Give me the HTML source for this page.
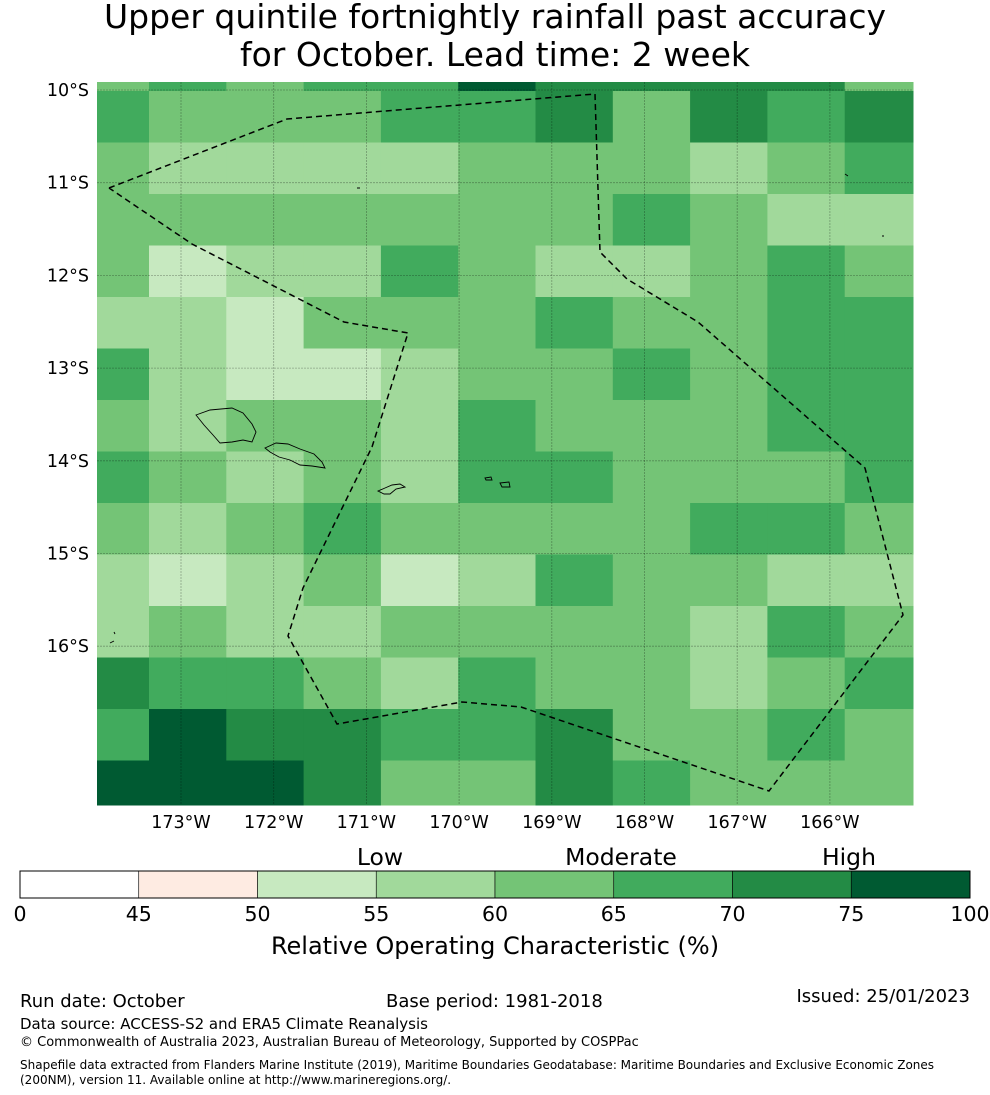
<!DOCTYPE html>
<html><head><meta charset="utf-8"><style>
body{margin:0;background:#fff;width:990px;height:1095px;overflow:hidden;font-family:"Liberation Sans","DejaVu Sans",sans-serif}
svg{display:block}
</style></head><body>
<svg id="chart" width="990" height="1095" viewBox="0 0 990 1095" font-family="DejaVu Sans, Liberation Sans, sans-serif">
<text x="495" y="28" font-size="33" text-anchor="middle">Upper quintile fortnightly rainfall past accuracy</text>
<text x="495" y="66" font-size="33" text-anchor="middle">for October. Lead time: 2 week</text>
<g id="cells"></g>
<g id="grid"></g>
<g id="islands" fill="none" stroke="#000" stroke-width="0.9">
<path d="M196,415 L210,410 L232,408 L243,413 L252,424 L256,432 L252,442 L243,440 L232,442 L220,443 L213,435 L204,425 Z"/>
<path d="M265,448 L276,443 L288,444 L300,449 L314,454 L322,462 L325,468 L312,466 L300,465 L290,460 L279,457 L270,452 Z"/>
<path d="M378,491 L385,488 L392,485 L400,484 L405,487 L396,489 L390,494 L384,494 Z"/>
<path d="M485,478 L491,477 L492,480 L486,480 Z M500,483 L509,482 L510,487 L502,487 Z"/>
<path d="M357,188 L360,188 M845,174 L848,176 M882,236 L884,236 M110,643 L114,641 M114,632 L115,634"/>
</g>
<polyline id="eez" fill="none" stroke="#000" stroke-width="1.5" stroke-dasharray="6,4" points="109,188 287,119 595,94 600,252 627,279 698,322 865,468 903,615 769,791 521,707 462,702 337,724 288,636 303,588 372,447 408,333 344,322 192,244 109,188"/>
<g id="xticks" font-size="17.5" text-anchor="middle"></g>
<g id="yticks" font-size="17.5" text-anchor="end"></g>
<g id="cbar"></g>
<text x="380" y="865" font-size="23.5" text-anchor="middle">Low</text>
<text x="621" y="865" font-size="23.5" text-anchor="middle">Moderate</text>
<text x="849" y="865" font-size="23.5" text-anchor="middle">High</text>
<text x="495" y="954" font-size="24" text-anchor="middle">Relative Operating Characteristic (%)</text>
<text x="20" y="1007" font-size="18">Run date: October</text>
<text x="386" y="1007" font-size="18">Base period: 1981-2018</text>
<text x="970" y="1002" font-size="18" text-anchor="end">Issued: 25/01/2023</text>
<text x="20" y="1029" font-size="15">Data source: ACCESS-S2 and ERA5 Climate Reanalysis</text>
<text x="20" y="1046" font-size="13">© Commonwealth of Australia 2023, Australian Bureau of Meteorology, Supported by COSPPac</text>
<text x="20" y="1069" font-size="12">Shapefile data extracted from Flanders Marine Institute (2019), Maritime Boundaries Geodatabase: Maritime Boundaries and Exclusive Economic Zones</text>
<text x="20" y="1084" font-size="12">(200NM), version 11. Available online at http://www.marineregions.org/.</text>
</svg>
<script>
// ROC category index per cell: 2=50-55,3=55-60,4=60-65,5=65-70,6=70-75,7=75-100
const row0=[4,5,4,5,5,7,6,6,6,6,4];
const row1=[5,4,4,4,5,5,6,4,6,5,6];
const row2=[4,3,3,3,3,4,4,4,3,4,5];
const row3=[4,4,4,4,4,4,4,5,4,3,3];
const row4=[4,2,3,3,5,4,3,3,4,5,4];
const row5=[3,3,2,4,4,4,5,4,4,5,5];
const row6=[5,3,2,2,3,4,4,5,4,5,5];
const row7=[4,3,4,4,3,5,4,4,4,5,5];
const row8=[5,4,3,4,3,5,5,4,4,4,5];
const row9=[4,3,4,5,4,4,4,4,5,5,4];
const row10=[3,2,3,4,2,3,5,4,4,3,3];
const row11=[3,4,3,3,4,4,4,4,3,5,4];
const row12=[6,5,5,4,3,5,4,4,3,4,5];
const row13=[5,7,6,6,5,5,6,4,4,5,4];
const row14=[7,7,7,6,4,4,6,5,4,4,4];
const lonTicks=[173,172,171,170,169,168,167,166];
const latTicks=[10,11,12,13,14,15,16];
const cbarBounds=[0,45,50,55,60,65,70,75,100];
const cbarColors=["#ffffff","#feebe2","#c7e9c0","#a1d99b","#74c476","#41ab5d","#238b45","#005a32"];

const rows=[row0,row1,row2,row3,row4,row5,row6,row7,row8,row9,row10,row11,row12,row13,row14];
const NS="http://www.w3.org/2000/svg";
const L=97,R=913,T=82,B=805;
const pxPerDeg=92.7;
const xLon=lon=>181+(173-lon)*pxPerDeg;
const yLat=lat=>90+(lat-10)*pxPerDeg;
const cellW=77.3, colStart=149-cellW, rowStart=91-51.5, cellH=51.5;
function mk(tag,attrs,parent){const e=document.createElementNS(NS,tag);for(const k in attrs)e.setAttribute(k,attrs[k]);parent.appendChild(e);return e;}
const cg=document.getElementById('cells');
rows.forEach((r,i)=>{r.forEach((v,j)=>{
  let x0=Math.max(L,colStart+j*cellW),x1=Math.min(R,colStart+(j+1)*cellW);
  let y0=Math.max(T,rowStart+i*cellH),y1=Math.min(B,rowStart+(i+1)*cellH);
  const e=mk('rect',{x:x0,y:y0,width:x1-x0+0.5,height:y1-y0+0.5,fill:cbarColors[v]},cg);
  
  
});});
const gg=document.getElementById('grid'),xt=document.getElementById('xticks'),yt=document.getElementById('yticks');
lonTicks.forEach(lon=>{const x=xLon(lon);
  const l=mk('line',{x1:x,x2:x,y1:T,y2:B,stroke:'rgba(0,0,0,0.3)','stroke-width':0.8,'stroke-dasharray':'2,1'},gg);
  
  
  const t=mk('text',{x:x,y:828},xt);t.textContent=lon+'°W';
  
  
});
latTicks.forEach(lat=>{const y=yLat(lat);
  const l=mk('line',{x1:L,x2:R,y1:y,y2:y,stroke:'rgba(0,0,0,0.3)','stroke-width':0.8,'stroke-dasharray':'2,1'},gg);
  
  
  const t=mk('text',{x:89,y:y+6},yt);t.textContent=lat+'°S';
  
  
});
const cb=document.getElementById('cbar');
const cbL=20,cbR=970,cbT=871,cbB=898,seg=(cbR-cbL)/(cbarBounds.length-1);
cbarColors.forEach((c,i)=>{
  const e=mk('rect',{x:cbL+i*seg,y:cbT,width:seg,height:cbB-cbT,fill:c,stroke:'#000','stroke-width':0.6},cb);
  
  
});
mk('rect',{x:cbL,y:cbT,width:cbR-cbL,height:cbB-cbT,fill:'none',stroke:'#000','stroke-width':1},cb);
cbarBounds.forEach((b,i)=>{
  const t=mk('text',{x:cbL+i*seg,y:921,'font-size':20.5,'text-anchor':'middle'},cb);t.textContent=b;
  
  
});
</script>
</body></html>
